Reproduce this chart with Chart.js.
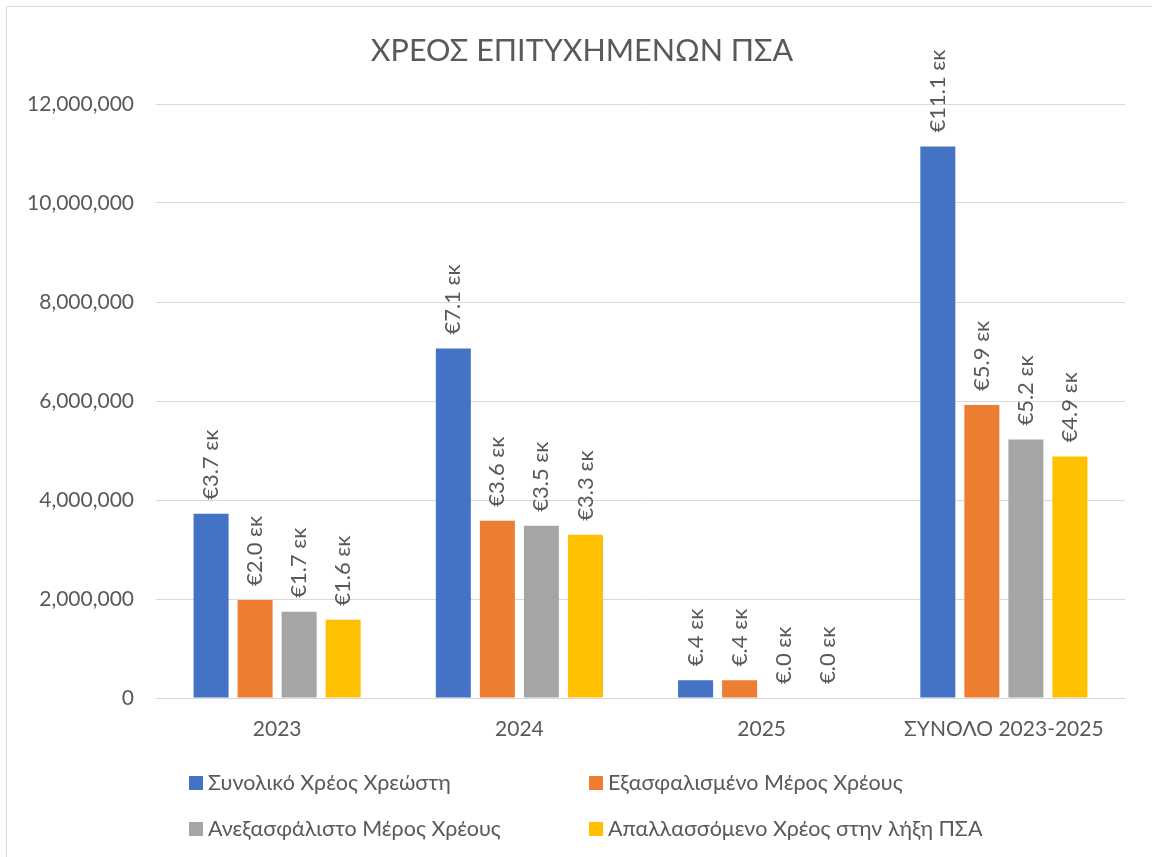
<!DOCTYPE html>
<html>
<head>
<meta charset="utf-8">
<script src="https://cdn.jsdelivr.net/npm/chart.js@4.4.1/dist/chart.umd.min.js"></script>
<style>
  html, body { margin: 0; padding: 0; background: #ffffff; }
  #wrap { position: relative; width: 1152px; height: 857px; }
  canvas { display: block; }
</style>
</head>
<body>
<div id="wrap"><canvas id="c" width="1152" height="857"></canvas></div>
<script>
const TITLE = 'ΧΡΕΟΣ ΕΠΙΤΥΧΗΜΕΝΩΝ ΠΣΑ';
const categories = ['2023', '2024', '2025', 'ΣΥΝΟΛΟ 2023-2025'];
const seriesNames = [
  'Συνολικό Χρέος Χρεώστη',
  'Εξασφαλισμένο Μέρος Χρέους',
  'Ανεξασφάλιστο Μέρος Χρέους',
  'Απαλλασσόμενο Χρέος στην λήξη ΠΣΑ'
];
const totalDebt     = [3720000, 7060000, 360000, 11140000];
const securedDebt   = [1980000, 3580000, 360000, 5920000];
const unsecuredDebt = [1740000, 3480000, 0, 5220000];
const dischargedDebt= [1580000, 3300000, 0, 4880000];
const yTicks = [0, 2000000, 4000000, 6000000, 8000000, 10000000, 12000000];

const colors = ['#4472C4', '#ED7D31', '#A5A5A5', '#FFC000'];
const FONT = "Lato, Carlito, 'Open Sans', sans-serif";
const TEXT = '#595959';

function fmtLabel(v) {
  return '€' + (v / 1e6).toFixed(1).replace(/^0/, '') + ' εκ';
}

const frame = {
  id: 'frame',
  beforeDraw(chart) {
    const ctx = chart.ctx;
    ctx.save();
    ctx.strokeStyle = '#d9d9d9';
    ctx.lineWidth = 1;
    ctx.beginPath();
    ctx.moveTo(6.5, 857);
    ctx.lineTo(6.5, 6.5);
    ctx.lineTo(1152, 6.5);
    ctx.stroke();
    ctx.fillStyle = TEXT;
    ctx.font = "30.5px " + FONT;
    ctx.textAlign = 'center';
    ctx.textBaseline = 'middle';
    ctx.fillText(TITLE, 582, 51);
    ctx.restore();
  }
};

const barLabels = {
  id: 'barLabels',
  afterDatasetsDraw(chart) {
    const ctx = chart.ctx;
    ctx.save();
    ctx.fillStyle = TEXT;
    ctx.font = "22px " + FONT;
    ctx.textAlign = 'left';
    ctx.textBaseline = 'middle';
    chart.data.datasets.forEach((ds, i) => {
      const meta = chart.getDatasetMeta(i);
      meta.data.forEach((bar, j) => {
        const v = ds.data[j];
        ctx.save();
        ctx.translate(bar.x, bar.y - 14);
        ctx.rotate(-Math.PI / 2);
        ctx.fillText(fmtLabel(v), 0, 0);
        ctx.restore();
      });
    });
    ctx.restore();
  }
};

const legendPlugin = {
  id: 'gridLegend',
  afterDraw(chart) {
    const ctx = chart.ctx;
    ctx.save();
    ctx.font = "21.5px " + FONT;
    ctx.textAlign = 'left';
    ctx.textBaseline = 'middle';
    const cols = [189, 589];
    const rows = [783, 829];
    chart.data.datasets.forEach((ds, i) => {
      const x = cols[i % 2];
      const y = rows[Math.floor(i / 2)];
      ctx.fillStyle = ds.backgroundColor;
      ctx.fillRect(x, y - 7, 14, 14);
      ctx.fillStyle = TEXT;
      ctx.fillText(ds.label, x + 19, y);
    });
    ctx.restore();
  }
};

const seriesData = [totalDebt, securedDebt, unsecuredDebt, dischargedDebt];

new Chart(document.getElementById('c'), {
  type: 'bar',
  data: {
    labels: categories,
    datasets: seriesNames.map((name, i) => ({
      label: name,
      data: seriesData[i],
      backgroundColor: colors[i],
      borderWidth: 0,
      categoryPercentage: 0.727,
      barPercentage: 0.795
    }))
  },
  options: {
    responsive: false,
    animation: false,
    devicePixelRatio: 1,
    layout: { padding: { left: 8, right: 27, top: 104, bottom: 99 } },
    plugins: {
      legend: { display: false },
      title: { display: false },
      tooltip: { enabled: false }
    },
    scales: {
      x: {
        grid: { display: false, drawTicks: false },
        border: { display: true, color: '#d9d9d9', width: 1 },
        ticks: { color: TEXT, font: { family: FONT, size: 21 }, padding: 19, maxRotation: 0 },
        afterFit(s) { s.height = 60; }
      },
      y: {
        min: 0,
        max: 12000000,
        afterBuildTicks(s) { s.ticks = yTicks.map(v => ({ value: v })); },
        grid: { color: '#d9d9d9', lineWidth: 1, drawTicks: false },
        border: { display: false },
        ticks: {
          color: TEXT,
          font: { family: FONT, size: 21 },
          padding: 22,
          callback: v => Number(v).toLocaleString('en-US')
        },
        afterFit(s) { s.width = 148; }
      }
    }
  },
  plugins: [frame, barLabels, legendPlugin]
});
</script>
</body>
</html>
